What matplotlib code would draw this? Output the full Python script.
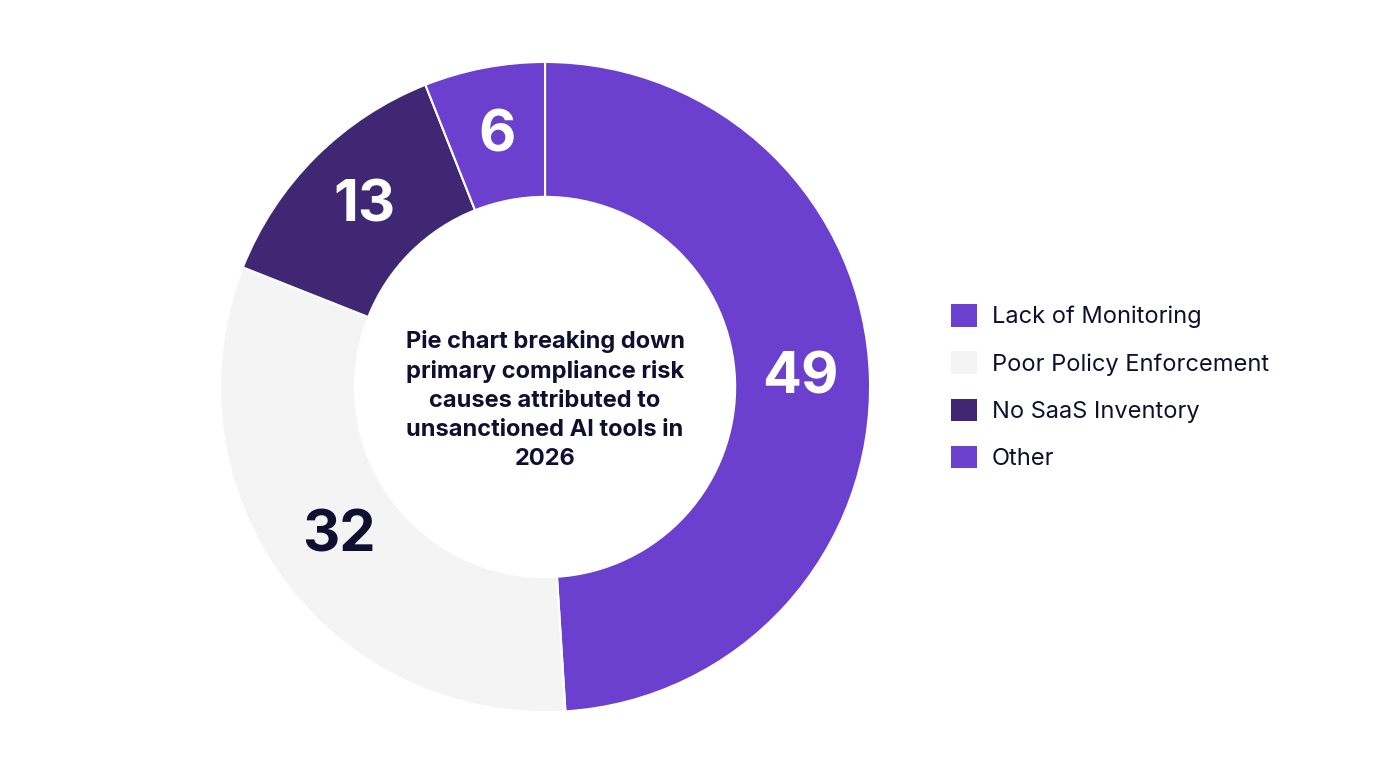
import matplotlib.pyplot as plt
from matplotlib.patches import Patch

plt.rcParams['font.family'] = ['Inter', 'DejaVu Sans']

categories = ['Lack of Monitoring', 'Poor Policy Enforcement', 'No SaaS Inventory', 'Other']
values = [49, 32, 13, 6]
colors = ['#6B40CF', '#F4F4F4', '#3F2773', '#6B40CF']
label_colors = ['white', '#0F1030', 'white', 'white']
center_title = ('Pie chart breaking down\nprimary compliance risk\ncauses attributed to\n'
                'unsanctioned AI tools in\n2026')

fig = plt.figure(figsize=(13.76, 7.68), dpi=100)
ax = fig.add_axes([0.1599, 0.0729, 0.4724, 0.8464])

wedges, texts = ax.pie(values, colors=colors, startangle=90, counterclock=False,
                       labels=[str(v) for v in values], labeldistance=0.785,
                       wedgeprops=dict(width=0.415, edgecolor='white', linewidth=1.5))
for t, c in zip(texts, label_colors):
    t.set_color(c)
    t.set_fontsize(41.5)
    t.set_fontweight('bold')
    t.set_ha('center')
    t.set_va('center')

ax.text(0, -0.04, center_title, ha='center', va='center', fontsize=17,
        fontweight='bold', color='#0F1030', linespacing=1.4)
ax.set_xlim(-1, 1)
ax.set_ylim(-1, 1)
ax.set_aspect('equal')
ax.axis('off')

handles = [Patch(facecolor=c, edgecolor='none') for c in colors]
fig.legend(handles, categories, loc='center left', bbox_to_anchor=(0.676, 0.496),
           frameon=False, fontsize=17, labelcolor='#0F1030', handlelength=1.1,
           handleheight=1.1, handletextpad=0.6, labelspacing=0.97)

fig.savefig('out.png', dpi=100, facecolor='white')
